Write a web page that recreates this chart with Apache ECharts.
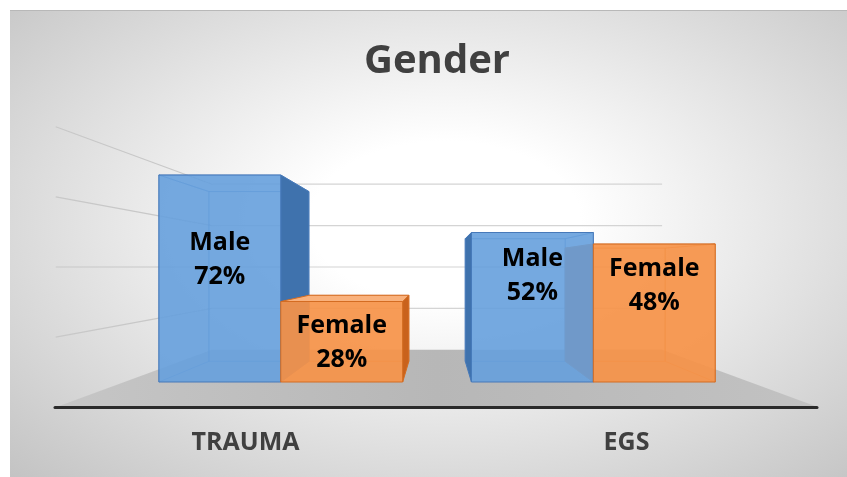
<!DOCTYPE html>
<html>
<head>
<meta charset="utf-8">
<script src="https://cdn.jsdelivr.net/npm/echarts@6/dist/echarts.min.js"></script>
<style>
  html, body { margin: 0; padding: 0; background: #fff; }
  #bg {
    position: absolute; left: 10px; top: 10px; width: 837px; height: 467px;
    border-top: 1px solid #b8b8b8;
    background: radial-gradient(ellipse at 52% 45%, #ffffff 22%, #c3c3c3 100%);
  }
  #main { position: absolute; left: 0; top: 0; width: 847px; height: 477px; }
</style>
</head>
<body>
<div id="bg"></div>
<div id="main"></div>
<script>
const categories = ['TRAUMA', 'EGS'];
const genders = ['Male', 'Female'];
const maleValues = [72, 52];
const femaleValues = [28, 48];
const wallTicks = [20, 40, 60, 80];

// fake 3D: how far things sit towards the vanishing point
const BAR_DEPTH = 0.18;
const BACK_WALL = 0.28;
const FLOOR_FRONT = -0.22;
const HORIZON = 40;      // value at eye height
const BAR_FRAC = 0.39;   // width of one bar, part of a category
// label centre below bar top, [category][gender]
const labelDrop = [[85, 41], [43, 42]];

const palette = {
  Male:   { front: 'rgba(102,160,221,0.9)', side: '#3f72ad', top: '#8cbbe8', edge: '#4679b9', inner: 'rgba(70,121,185,0.55)' },
  Female: { front: 'rgba(246,146,72,0.92)', side: '#c9621c', top: '#f9b17c', edge: '#d46c22', inner: 'rgba(212,108,34,0.55)' }
};

const chart = echarts.init(document.getElementById('main'));

function vanish(api) {
  const a = api.coord([0, HORIZON]);
  const b = api.coord([1, HORIZON]);
  return [(a[0] + b[0]) / 2, a[1]];
}
function proj(p, v, g) {
  return [p[0] + (v[0] - p[0]) * g, p[1] + (v[1] - p[1]) * g];
}

// floor + walls
function renderRoom(params, api) {
  const v = vanish(api);
  const cw = api.size([1, 0])[0];
  const xl = api.coord([0, 0])[0] - cw / 2;
  const xr = api.coord([1, 0])[0] + cw / 2;
  const y0 = api.coord([0, 0])[1];
  const children = [];
  children.push({
    type: 'polygon',
    shape: { points: [
      proj([xl, y0], v, FLOOR_FRONT), proj([xr, y0], v, FLOOR_FRONT),
      proj([xr, y0], v, BACK_WALL), proj([xl, y0], v, BACK_WALL)
    ] },
    style: { fill: new echarts.graphic.LinearGradient(0, 0, 1, 0, [
      { offset: 0, color: '#c6c6c6' }, { offset: 0.5, color: '#b7b7b7' }, { offset: 1, color: '#c2c2c2' }
    ]) }
  });
  wallTicks.forEach(t => {
    const y = api.coord([0, t])[1];
    const bl = proj([xl, y], v, BACK_WALL);
    const br = proj([xr, y], v, BACK_WALL);
    const fl = proj([xl, y], v, FLOOR_FRONT);
    children.push({ type: 'line', shape: { x1: bl[0], y1: bl[1], x2: br[0], y2: br[1] },
      style: { stroke: '#d4d4d4', lineWidth: 1.2 } });
    children.push({ type: 'line', shape: { x1: fl[0], y1: fl[1], x2: bl[0], y2: bl[1] },
      style: { stroke: '#c8c8c8', lineWidth: 1.2 } });
  });
  return { type: 'group', children };
}

function barRenderer(gi) {
  const pal = palette[genders[gi]];
  return function (params, api) {
    const ci = api.value(0);
    const val = api.value(1);
    const v = vanish(api);
    const cx = api.coord([ci, 0])[0];
    const yB = api.coord([ci, 0])[1];
    const yT = api.coord([ci, val])[1];
    const bw = api.size([1, 0])[0] * BAR_FRAC;
    const x0 = gi === 0 ? cx - bw : cx;
    const x1 = x0 + bw;
    const fTL = [x0, yT], fTR = [x1, yT], fBL = [x0, yB], fBR = [x1, yB];
    const bTL = proj(fTL, v, BAR_DEPTH), bTR = proj(fTR, v, BAR_DEPTH);
    const bBL = proj(fBL, v, BAR_DEPTH), bBR = proj(fBR, v, BAR_DEPTH);

    // faces turned to the viewer get a fill, the rest only show their edges
    const face = (pts, fill, shown) => ({
      type: 'polygon', shape: { points: pts }, z2: shown ? 5 : 1,
      style: shown ? { fill: fill, stroke: pal.edge, lineWidth: 1 }
                   : { fill: 'none', stroke: pal.inner, lineWidth: 1 }
    });
    return {
      type: 'group',
      children: [
        face([bTL, bTR, bBR, bBL], 'none', false),
        face([fTL, bTL, bBL, fBL], pal.side, bTL[0] < fTL[0]),
        face([fTR, bTR, bBR, fBR], pal.side, bTR[0] > fTR[0]),
        face([fTL, fTR, bTR, bTL], pal.top, bTL[1] < fTL[1]),
        {
          type: 'rect', z2: 10,
          shape: { x: x0, y: yT, width: bw, height: yB - yT },
          style: { fill: pal.front, stroke: pal.edge, lineWidth: 1 }
        },
        {
          type: 'text', z2: 20,
          style: {
            text: genders[gi] + '\n' + val + '%',
            x: (x0 + x1) / 2, y: yT + labelDrop[ci][gi],
            align: 'center', verticalAlign: 'middle',
            fontFamily: 'Open Sans', fontWeight: 'bold',
            fontSize: 25, lineHeight: 34, fill: '#000'
          }
        }
      ]
    };
  };
}

const option = {
  animation: false,
  title: {
    text: 'Gender',
    left: 432, top: 37, textAlign: 'center',
    textStyle: { fontFamily: 'Open Sans', fontWeight: 'bold', fontSize: 40, color: '#404040' }
  },
  grid: [
    { left: 124.5, right: 97.4, top: 94.5, bottom: 95 },
    { left: 55, right: 30, top: 100, bottom: 70 }
  ],
  xAxis: [
    { type: 'category', data: categories, gridIndex: 0, show: false },
    {
      type: 'category', data: categories, gridIndex: 1, z: 10,
      axisLine: { lineStyle: { color: '#2a2a2a', width: 3 } },
      axisTick: { show: false },
      axisLabel: { margin: 23, fontFamily: 'Open Sans', fontWeight: 'bold', fontSize: 25, color: '#404040' }
    }
  ],
  yAxis: [
    { type: 'value', min: 0, max: 100, gridIndex: 0, show: false },
    { type: 'value', gridIndex: 1, show: false }
  ],
  series: [
    { type: 'custom', name: 'room', renderItem: renderRoom, data: [[0, 0]], z: 1, silent: true, clip: false },
    { type: 'custom', name: 'Male', renderItem: barRenderer(0), clip: false, z: 3,
      data: categories.map((c, i) => [i, maleValues[i]]) },
    { type: 'custom', name: 'Female', renderItem: barRenderer(1), clip: false, z: 3,
      data: categories.map((c, i) => [i, femaleValues[i]]) }
  ]
};

chart.setOption(option);
</script>
</body>
</html>
